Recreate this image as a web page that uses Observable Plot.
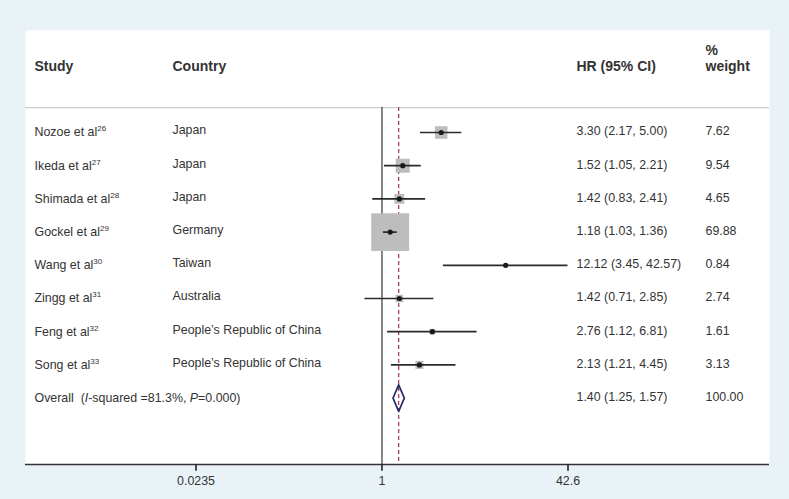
<!DOCTYPE html>
<html>
<head>
<meta charset="utf-8">
<script src="https://cdn.jsdelivr.net/npm/d3@7"></script>
<script src="https://cdn.jsdelivr.net/npm/@observablehq/plot@0.6"></script>
<style>
  html, body { margin: 0; padding: 0; background: #e9f3f7; }
  #chart svg { display: block; }
</style>
</head>
<body>
<div id="chart"></div>
<script>
// ---- data ----
const studies = ["Nozoe et al", "Ikeda et al", "Shimada et al", "Gockel et al", "Wang et al", "Zingg et al", "Feng et al", "Song et al"];
const refs = ["26", "27", "28", "29", "30", "31", "32", "33"];
const countries = ["Japan", "Japan", "Japan", "Germany", "Taiwan", "Australia", "People’s Republic of China", "People’s Republic of China"];
const hr = [3.30, 1.52, 1.42, 1.18, 12.12, 1.42, 2.76, 2.13];
const lo = [2.17, 1.05, 0.83, 1.03, 3.45, 0.71, 1.12, 1.21];
const hi = [5.00, 2.21, 2.41, 1.36, 42.57, 2.85, 6.81, 4.45];
const weight = [7.62, 9.54, 4.65, 69.88, 0.84, 2.74, 1.61, 3.13];

const overallHR = 1.40, overallLo = 1.25, overallHi = 1.57, overallWeight = 100.00;
const iSquared = "81.3", pValue = "0.000";

const headers = ["Study", "Country", "HR (95% CI)", "weight"];
const xTicks = [0.0235, 1, 42.6];
const xTickLabels = ["0.0235", "1", "42.6"];

// ---- derived tables ----
const rows = studies.map((s, i) => ({
  row: i, label: s + "^" + refs[i], country: countries[i],
  hr: hr[i], lo: lo[i], hi: hi[i], w: weight[i],
  hrText: `${hr[i].toFixed(2)} (${lo[i].toFixed(2)}, ${hi[i].toFixed(2)})`,
  wText: weight[i].toFixed(2)
}));
const oRow = studies.length;
const overallRow = {
  row: oRow,
  label: `Overall  (_I_-squared =${iSquared}%, _P_=${pValue})`,
  hrText: `${overallHR.toFixed(2)} (${overallLo.toFixed(2)}, ${overallHi.toFixed(2)})`,
  wText: overallWeight.toFixed(2)
};
const textRows = [...rows, overallRow];
const diamond = [
  {x: overallLo, y: oRow}, {x: overallHR, y: oRow - 0.4},
  {x: overallHi, y: oRow}, {x: overallHR, y: oRow + 0.4}, {x: overallLo, y: oRow}
];
const headerRow = -2, sepRow = -0.75, bottomRow = 10, tickLen = 0.2;
const ticks = xTicks.map((v, i) => ({v, label: xTickLabels[i], y: bottomRow, y2: bottomRow + tickLen}));

const font = "'Liberation Sans', Arial, Helvetica, sans-serif";
const txt = "#333";

const plot = Plot.plot({
  width: 789, height: 499,
  marginLeft: 25, marginRight: 20, marginTop: 30, marginBottom: 35,
  style: {background: "#e9f3f7", fontFamily: font, fontSize: "12.4px", color: txt},
  x: {type: "log", domain: [xTicks[0], xTicks[2]], range: [195.5, 567.5], axis: null},
  y: {type: "linear", domain: [0, 8], range: [132, 397.6], axis: null},
  r: {type: "sqrt", range: [0, 21.4]},
  marks: [
    Plot.frame({fill: "white", stroke: "none"}),
    Plot.ruleY([sepRow], {stroke: "#cfcfcf", strokeWidth: 1.2}),
    // header
    Plot.text([headers[0]], {text: d => d, y: () => headerRow, frameAnchor: "left", dx: 9, textAnchor: "start", fontWeight: "bold", fontSize: 14, fill: txt}),
    Plot.text([headers[1]], {text: d => d, y: () => headerRow, frameAnchor: "left", dx: 147, textAnchor: "start", fontWeight: "bold", fontSize: 14, fill: txt}),
    Plot.text([headers[2]], {text: d => d, y: () => headerRow, frameAnchor: "left", dx: 551, textAnchor: "start", fontWeight: "bold", fontSize: 14, fill: txt}),
    Plot.text(["%"], {text: d => d, y: () => headerRow, frameAnchor: "left", dx: 680, dy: -16, textAnchor: "start", fontWeight: "bold", fontSize: 14, fill: txt}),
    Plot.text([headers[3]], {text: d => d, y: () => headerRow, frameAnchor: "left", dx: 680, textAnchor: "start", fontWeight: "bold", fontSize: 14, fill: txt}),
    // reference lines
    Plot.ruleX([1], {y1: sepRow, y2: bottomRow, stroke: "#444", strokeWidth: 1.3}),
    Plot.ruleX([overallHR], {y1: sepRow, y2: bottomRow, stroke: "#9e4655", strokeWidth: 1.3, strokeDasharray: "4,3"}),
    // boxes, CIs, points
    Plot.dot(rows, {x: "hr", y: "row", r: "w", symbol: "square", fill: "#bdbdbd", stroke: "none"}),
    Plot.ruleY(rows, {y: "row", x1: "lo", x2: "hi", stroke: "#2a2a2a", strokeWidth: 1.7}),
    Plot.dot(rows, {x: "hr", y: "row", r: 2.6, fill: "#1a1a1a", stroke: "none"}),
    // overall diamond
    Plot.line(diamond, {x: "x", y: "y", stroke: "#2b2a6e", strokeWidth: 1.7}),
    // text columns
    Plot.text(textRows, {y: "row", text: "label", frameAnchor: "left", dx: 9, textAnchor: "start", fill: txt}),
    Plot.text(rows, {y: "row", text: "country", frameAnchor: "left", dx: 147, dy: -2, textAnchor: "start", fill: txt}),
    Plot.text(textRows, {y: "row", text: "hrText", frameAnchor: "left", dx: 551, dy: -1, textAnchor: "start", fill: txt}),
    Plot.text(textRows, {y: "row", text: "wText", frameAnchor: "left", dx: 680, dy: -1, textAnchor: "start", fill: txt}),
    // axis
    Plot.ruleY([bottomRow], {stroke: "#333", strokeWidth: 1.3}),
    Plot.ruleX(ticks, {x: "v", y1: "y", y2: "y2", stroke: "#222", strokeWidth: 1.6}),
    Plot.text(ticks, {x: "v", y: "y", text: "label", dy: 17, fill: txt})
  ]
});

// rich text: ^superscript and _italic_
d3.select(plot).selectAll("text").each(function () {
  const el = d3.select(this);
  const s = this.textContent;
  if (!/[\^_]/.test(s)) return;
  el.text(null).style("white-space", "pre");
  const caret = s.indexOf("^");
  let main = caret >= 0 ? s.slice(0, caret) : s;
  const sup = caret >= 0 ? s.slice(caret + 1) : null;
  main.split("_").forEach((part, k) => {
    if (!part) return;
    const t = el.append("tspan").text(part);
    if (k % 2 === 1) t.style("font-style", "italic");
  });
  if (sup) el.append("tspan").attr("dy", "-5").style("font-size", "8px").text(sup);
});

document.getElementById("chart").appendChild(plot);
</script>
</body>
</html>
